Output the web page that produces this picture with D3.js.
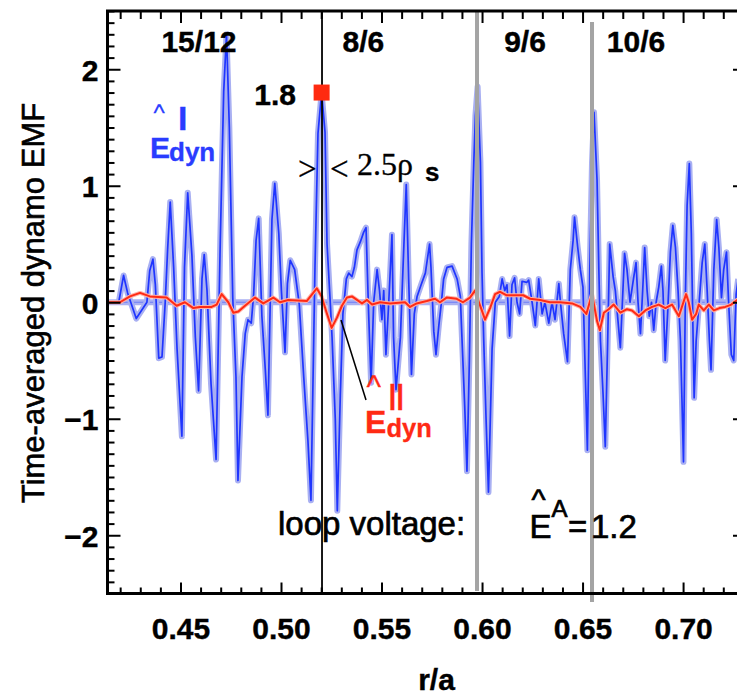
<!DOCTYPE html>
<html><head><meta charset="utf-8">
<script src="https://cdn.jsdelivr.net/npm/d3@7"></script>
<style>body{margin:0;background:#fff}svg{display:block}</style>
</head><body>
<svg id="c" width="737" height="695"></svg>
<script>
// ---- data (r/a, dynamo EMF) ----
const rBlue = [0.4193,0.4217,0.4237,0.4280,0.4333,0.4347,0.4363,0.4375,0.4392,0.4408,0.4424,0.4436,0.4449,0.4466,0.4483,0.4507,0.4520,0.4536,0.4557,0.4574,0.4590,0.4607,0.4618,0.4632,0.4652,0.4677,0.4698,0.4715,0.4729,0.4743,0.4760,0.4776,0.4786,0.4806,0.4822,0.4836,0.4852,0.4864,0.4876,0.4889,0.4905,0.4922,0.4935,0.4955,0.4969,0.4989,0.5002,0.5020,0.5032,0.5046,0.5068,0.5091,0.5113,0.5134,0.5149,0.5169,0.5184,0.5202,0.5219,0.5229,0.5245,0.5254,0.5270,0.5280,0.5295,0.5308,0.5325,0.5337,0.5353,0.5365,0.5378,0.5395,0.5411,0.5423,0.5436,0.5448,0.5461,0.5478,0.5490,0.5502,0.5511,0.5522,0.5536,0.5552,0.5560,0.5572,0.5594,0.5607,0.5623,0.5635,0.5649,0.5663,0.5677,0.5697,0.5718,0.5739,0.5746,0.5760,0.5771,0.5785,0.5798,0.5809,0.5826,0.5851,0.5876,0.5892,0.5900,0.5914,0.5925,0.5937,0.5947,0.5959,0.5967,0.5978,0.5992,0.6000,0.6008,0.6020,0.6032,0.6050,0.6066,0.6086,0.6100,0.6113,0.6124,0.6137,0.6149,0.6162,0.6174,0.6187,0.6199,0.6222,0.6232,0.6249,0.6265,0.6282,0.6299,0.6313,0.6332,0.6348,0.6363,0.6382,0.6390,0.6406,0.6425,0.6439,0.6453,0.6460,0.6476,0.6489,0.6502,0.6514,0.6524,0.6536,0.6547,0.6557,0.6572,0.6581,0.6589,0.6602,0.6613,0.6625,0.6635,0.6652,0.6663,0.6688,0.6709,0.6721,0.6736,0.6755,0.6766,0.6776,0.6788,0.6799,0.6809,0.6821,0.6832,0.6843,0.6854,0.6866,0.6879,0.6892,0.6900,0.6911,0.6923,0.6937,0.6949,0.6962,0.6975,0.6987,0.6995,0.7002,0.7011,0.7020,0.7031,0.7041,0.7055,0.7065,0.7080,0.7095,0.7108,0.7119,0.7131,0.7139,0.7153,0.7167,0.7178,0.7191,0.7202,0.7216,0.7227,0.7240,0.7252,0.7264,0.7274];
const eBlue = [0.0,0.23,0.08,-0.14,0.0,0.27,0.37,0.15,-0.48,-0.47,0.0,0.45,0.86,0.3,-0.4,-1.15,0.3,0.94,0.4,-0.3,-0.76,0.2,0.41,0.1,-0.7,-1.35,0.53,1.81,2.3,1.5,0.04,-0.64,-1.53,-0.64,-0.27,-0.15,-0.18,0.07,0.53,0.72,-0.12,-0.58,-0.97,0.71,1.02,0.59,0.1,-0.43,0.16,0.36,0.28,-0.02,-0.64,-1.19,-1.7,0.3,1.45,1.8,1.46,0.5,0.0,-0.3,-1.0,-1.79,-0.8,-0.1,0.2,0.25,0.22,0.3,0.45,0.52,0.6,0.64,-0.1,-0.69,0.0,0.28,0.1,-0.15,0.1,-0.45,0.0,0.58,-0.3,-0.75,-0.3,0.3,1.01,0.2,-0.62,-0.1,0.05,0.15,0.25,0.5,0.3,-0.25,-0.45,-0.2,0.0,0.2,0.3,0.31,0.2,0.05,-0.3,-0.9,-1.45,-0.5,0.5,1.2,1.6,1.85,1.2,0.25,-0.3,-1.0,-1.63,-0.4,0.0,0.05,0.2,0.1,0.15,-0.29,0.15,0.21,0.0,-0.1,0.18,0.17,0.19,0.0,-0.2,0.2,-0.1,0.0,-0.18,0.0,-0.15,0.16,0.0,-0.27,-0.51,0.28,0.53,0.73,0.47,0.28,0.13,-0.64,-1.27,0.28,1.2,1.63,1.05,0.28,-0.33,-0.79,-1.24,-0.33,0.5,0.22,0.1,-0.39,0.42,0.28,0.0,0.22,0.34,0.0,-0.27,0.1,0.47,0.1,-0.12,0.0,-0.24,0.0,0.13,0.31,0.1,-0.5,-0.1,0.43,0.66,0.47,0.1,-0.33,-0.88,-1.37,0.0,0.83,1.19,0.59,-0.82,-0.33,0.0,0.34,0.5,0.13,-0.33,-0.58,0.28,0.71,0.47,0.04,0.28,0.43,-0.02,-0.45,-0.5,0.07,0.2];
const rRed = [0.4137,0.4199,0.4249,0.4299,0.4348,0.4431,0.4481,0.4522,0.4564,0.4597,0.4655,0.4680,0.4705,0.4738,0.4763,0.4788,0.4821,0.4871,0.4912,0.4962,0.4995,0.5036,0.5128,0.5178,0.5202,0.5227,0.5252,0.5279,0.5303,0.5328,0.5353,0.5378,0.5403,0.5428,0.5453,0.5493,0.5542,0.5617,0.5642,0.5675,0.5725,0.5766,0.5791,0.5824,0.5874,0.5905,0.5940,0.5965,0.5980,0.5999,0.6015,0.6040,0.6065,0.6090,0.6123,0.6173,0.6205,0.6239,0.6289,0.6338,0.6388,0.6448,0.6489,0.6519,0.6547,0.6572,0.6586,0.6606,0.6630,0.6655,0.6688,0.6721,0.6746,0.6780,0.6812,0.6846,0.6879,0.6912,0.6945,0.6979,0.7015,0.7028,0.7045,0.7065,0.7078,0.7103,0.7128,0.7153,0.7181,0.7210,0.7240,0.7269,0.7308];
const eRed = [0.0,0.0,0.05,0.08,0.05,0.04,-0.03,0.0,-0.05,-0.04,-0.04,-0.02,0.07,0.0,-0.09,-0.08,-0.03,0.04,-0.01,0.04,0.0,0.02,0.01,0.12,0.05,-0.09,-0.22,-0.13,-0.03,0.04,0.05,0.02,-0.01,0.02,-0.02,0.0,-0.01,0.0,-0.04,-0.01,0.01,0.03,0.0,0.04,0.03,0.0,0.04,0.1,0.02,-0.07,-0.15,-0.05,0.07,0.09,0.06,0.06,0.06,0.03,0.02,0.0,0.0,-0.01,-0.04,-0.1,0.07,-0.16,-0.24,-0.09,-0.06,-0.02,-0.09,-0.06,-0.07,-0.12,-0.07,-0.04,-0.02,-0.05,-0.02,-0.12,0.07,0.0,-0.15,-0.1,-0.02,-0.07,-0.02,-0.07,-0.05,-0.04,-0.02,0.02,0.03];
const xTickValues = [0.45,0.50,0.55,0.60,0.65,0.70];
const yTickValues = [-2,-1,0,1,2];
const surfaceLabels = ["15/12","8/6","9/6","10/6"];
const surfaceLabelR = [0.4592,0.5410,0.6214,0.6766];
const blackLineR = [0.5204];
const grayLineR = [0.5975,0.6547];
const markerR = [0.5202];
const markerE = [1.8];

// ---- scales ----
const svg = d3.select("#c");
const x = d3.scaleLinear().domain([0.4137,0.7308]).range([107.5,745]);
const y = d3.scaleLinear().domain([-2.5,2.5]).range([593.5,11]);
const SANS = "'Liberation Sans', Arial, Helvetica, sans-serif";
const SERIF = "'Liberation Serif', 'Times New Roman', serif";

// zero reference line
svg.append("line").attr("x1",x(0.4137)).attr("x2",x(0.7308)).attr("y1",y(0)).attr("y2",y(0))
  .attr("stroke","#aab1f3").attr("stroke-width",6);
svg.append("line").attr("x1",x(0.4137)).attr("x2",x(0.7308)).attr("y1",y(0)).attr("y2",y(0))
  .attr("stroke","#6f7ef5").attr("stroke-width",1);

const line = d3.line().x(d=>x(d[0])).y(d=>y(d[1]));
const blue = d3.zip(rBlue,eBlue), red = d3.zip(rRed,eRed);
svg.append("path").datum(blue).attr("d",line).attr("fill","none")
  .attr("stroke","#a9b0f2").attr("stroke-width",6).attr("stroke-linejoin","round");
svg.append("path").datum(blue).attr("d",line).attr("fill","none")
  .attr("stroke","#1f35ff").attr("stroke-width",1.7).attr("stroke-linejoin","round");
svg.append("path").datum(red).attr("d",line).attr("fill","none")
  .attr("stroke","#ffb0a8").attr("stroke-width",4).attr("stroke-linejoin","round");
svg.append("path").datum(red).attr("d",line).attr("fill","none")
  .attr("stroke","#ff2a14").attr("stroke-width",2).attr("stroke-linejoin","round");

// vertical lines
svg.selectAll(".gl").data(grayLineR).join("line").attr("class","gl")
  .attr("x1",d=>x(d)).attr("x2",d=>x(d))
  .attr("y1",(d,i)=>i===0?11:22).attr("y2",(d,i)=>i===0?591:602)
  .attr("stroke","#a4a4a4").attr("stroke-width",4);
svg.selectAll(".bl").data(blackLineR).join("line").attr("class","bl")
  .attr("x1",d=>x(d)).attr("x2",d=>x(d)).attr("y1",11).attr("y2",593.5)
  .attr("stroke","#000").attr("stroke-width",1.8);

// marker
svg.selectAll(".mk").data(d3.zip(markerR,markerE)).join("rect").attr("class","mk")
  .attr("x",d=>x(d[0])-8).attr("y",d=>y(d[1])-8).attr("width",16).attr("height",16)
  .attr("fill","#ff2a10");

// ---- axes ----
const minorX = d3.range(42,74).map(d=>d/100).filter(v=>Math.round(v*100)%5!==0);
const minorY = d3.range(-25,26).map(d=>d/10).filter(v=>Math.round(v*10)%10!==0);
function styleAxis(g){
  g.select(".domain").remove();
  g.selectAll(".tick line").attr("stroke","#000").attr("stroke-width",2);
  g.selectAll("text").attr("fill","#000").attr("font-family",SANS)
    .attr("font-size",30).attr("font-weight","bold")
    .attr("stroke","#000").attr("stroke-width",0.4);
}
svg.append("g").attr("transform","translate(0,593.5)")
  .call(d3.axisBottom(x).tickValues(minorX).tickSize(-6).tickFormat("")).call(styleAxis);
svg.append("g").attr("transform","translate(0,593.5)")
  .call(d3.axisBottom(x).tickValues(xTickValues).tickSize(-11).tickPadding(24).tickFormat(d3.format(".2f"))).call(styleAxis);
svg.append("g").attr("transform","translate(0,11)")
  .call(d3.axisTop(x).tickValues(minorX).tickSize(-8).tickFormat("")).call(styleAxis);
svg.append("g").attr("transform","translate(0,11)")
  .call(d3.axisTop(x).tickValues(xTickValues).tickSize(-12).tickFormat("")).call(styleAxis);
svg.append("g").attr("transform","translate(107.5,0)")
  .call(d3.axisLeft(y).tickValues(minorY).tickSize(-7).tickFormat("")).call(styleAxis);
svg.append("g").attr("transform","translate(107.5,0)")
  .call(d3.axisLeft(y).tickValues(yTickValues).tickSize(-13).tickPadding(9).tickFormat(d3.format("d"))).call(styleAxis)
  .selectAll("text").attr("dy","0.36em");
svg.append("g").attr("transform","translate(745,0)")
  .call(d3.axisRight(y).tickValues(minorY).tickSize(-7).tickFormat("")).call(styleAxis);
svg.append("g").attr("transform","translate(745,0)")
  .call(d3.axisRight(y).tickValues(yTickValues).tickSize(-12).tickFormat("")).call(styleAxis);

// frame
svg.append("rect").attr("x",107.5).attr("y",11).attr("width",745-107.5).attr("height",593.5-11)
  .attr("fill","none").attr("stroke","#000").attr("stroke-width",3);

// ---- text ----
function txt(s,px,py,o={}){
  return svg.append("text").attr("x",px).attr("y",py).text(s)
    .attr("font-family",o.family||SANS).attr("font-size",o.size||30)
    .attr("font-weight",o.weight||"normal").attr("fill",o.fill||"#000")
    .attr("stroke",o.fill||"#000").attr("stroke-width",o.sw==null?0.5:o.sw)
    .attr("text-anchor",o.anchor||"start");
}
// multi-part label as one text element made of positioned tspans
function label(parts,o={}){
  const t = svg.append("text").attr("font-family",SANS).attr("fill",o.fill||"#000")
    .attr("stroke",o.fill||"#000").attr("stroke-width",o.sw==null?0.5:o.sw);
  parts.forEach(p=>{
    t.append("tspan").attr("x",p[1]).attr("y",p[2]).attr("font-size",p[3])
      .attr("font-weight",p[4]||"normal").attr("font-family",p[5]||SANS)
      .attr("font-style",p[6]||"normal").text(p[0]);
  });
  return t;
}
svg.append("text").attr("transform","rotate(-90)").attr("x",-303).attr("y",44)
  .attr("text-anchor","middle").attr("font-family",SANS).attr("font-size",31)
  .attr("stroke","#000").attr("stroke-width",0.6)
  .text("Time-averaged dynamo EMF");
txt("r/a",436.5,690,{weight:"bold",anchor:"middle",sw:0.4});
surfaceLabels.forEach((s,i)=>txt(s,x(surfaceLabelR[i]),52,{weight:"bold",anchor:"middle",sw:0.4}));
txt("1.8",296,105,{weight:"bold",anchor:"end",sw:0.4});
// width annotation
label([[">",298,180,33,"normal",SERIF],["<",330,180,33,"normal",SERIF],
       ["2.5ρ",357,175,32,"normal",SERIF],["s",425,181,26,"bold"]],{sw:0.3});
// blue label
const BL="#2a3cff";
label([["^",153.5,120.5,24],["I",178,130,34,"bold"],["E",150,157.5,30,"bold"],["dyn",169,161,26,"bold"]],{fill:BL,sw:0.3});
// red label + pointer
const RL="#ff2a14";
svg.append("line").attr("x1",341).attr("y1",320).attr("x2",366).attr("y2",400)
  .attr("stroke","#000").attr("stroke-width",1.5);
label([["^",366.5,396.5,31],["||",388,404,28,"bold",SANS,"italic"],["E",365,432.5,32,"bold"],["dyn",386.5,437,25.5,"bold"]],{fill:RL,sw:0.3});
// loop voltage
txt("loop voltage:",278,535,{size:33,sw:0.7});
label([["^",531.5,510,30],["E",529.5,537.5,33],["A",551.5,517,24],["=",568,537.5,33],["1.2",591,537.5,33]],{sw:0.7});
</script>
</body></html>
